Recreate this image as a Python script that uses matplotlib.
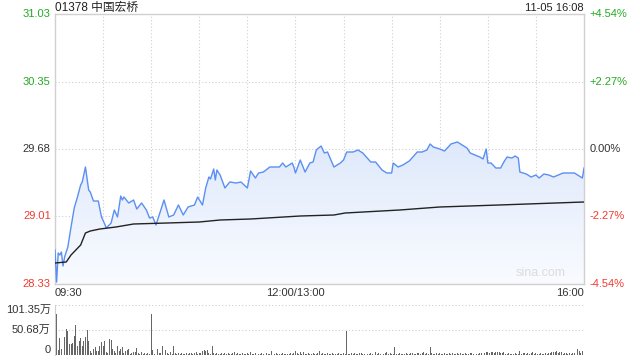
import numpy as np
import matplotlib
matplotlib.use("Agg")
import matplotlib.pyplot as plt
from matplotlib.transforms import blended_transform_factory as btf
from matplotlib.patches import Polygon
from matplotlib.colors import LinearSegmentedColormap

plt.rcParams['font.family'] = ['Liberation Sans', 'Noto Sans CJK SC', 'DejaVu Sans']

title = "01378 中国宏桥"
stamp = "11-05 16:08"
prev_close = 29.68
y_ticks = [31.03, 30.35, 29.68, 29.01, 28.33]
y_tick_labels = ["31.03", "30.35", "29.68", "29.01", "28.33"]
pct_labels = ["+4.54%", "+2.27%", "0.00%", "-2.27%", "-4.54%"]
x_tick_pos = [0, 150, 330]
x_tick_labels = ["09:30", "12:00/13:00", "16:00"]
vol_ticks = [101.35, 50.68, 0]
vol_tick_labels = ["101.35万", "50.68万", "0"]

# minutes since 09:30 (lunch break removed)
price_t = [0, 1, 2, 3, 4, 5, 6, 8, 10, 12, 14, 16, 17, 19, 21, 22, 24, 27, 29, 31,
           32, 35, 37, 39, 41, 42, 43, 46, 49, 51, 54, 57, 59, 61, 63, 66, 68, 71, 74, 77,
           80, 83, 87, 89, 92, 94, 96, 97, 99, 100, 101, 103, 106, 109, 113, 116, 120, 122, 125, 127,
           130, 134, 140, 142, 144, 148, 149, 150, 153, 156, 159, 161, 163, 166, 168, 170, 174, 178, 180, 182,
           186, 189, 192, 197, 200, 204, 207, 210, 211, 214, 217, 221, 226, 229, 232, 234, 236, 240, 243, 247,
           251, 254, 257, 259, 262, 265, 267, 269, 270, 272, 275, 278, 280, 282, 285, 287, 289, 290, 294, 297,
           300, 302, 305, 308, 311, 314, 317, 321, 324, 328, 329, 330]
price_v = [28.67, 28.35, 28.64, 28.62, 28.65, 28.51, 28.60, 28.70, 28.90, 29.09, 29.20, 29.32, 29.35, 29.50, 29.27, 29.25, 29.16, 29.16, 29.00, 28.93,
           28.89, 28.94, 29.07, 29.00, 29.21, 29.17, 29.20, 29.14, 29.17, 29.08, 29.14, 29.07, 28.99, 29.00, 28.92, 29.07, 29.17, 29.00, 29.02, 29.12,
           29.02, 29.10, 29.12, 29.20, 29.12, 29.29, 29.40, 29.38, 29.48, 29.37, 29.47, 29.42, 29.29, 29.35, 29.34, 29.35, 29.29, 29.46, 29.39, 29.44,
           29.45, 29.50, 29.50, 29.54, 29.50, 29.54, 29.50, 29.44, 29.57, 29.45, 29.54, 29.55, 29.67, 29.71, 29.64, 29.65, 29.50, 29.54, 29.57, 29.65,
           29.65, 29.67, 29.64, 29.55, 29.55, 29.47, 29.44, 29.44, 29.54, 29.50, 29.52, 29.56, 29.65, 29.65, 29.67, 29.73, 29.70, 29.68, 29.66, 29.73,
           29.75, 29.72, 29.69, 29.64, 29.62, 29.60, 29.58, 29.68, 29.54, 29.54, 29.49, 29.49, 29.55, 29.60, 29.59, 29.61, 29.59, 29.45, 29.43, 29.40,
           29.42, 29.39, 29.43, 29.42, 29.40, 29.42, 29.44, 29.44, 29.44, 29.40, 29.39, 29.49]

avg_t = [0, 7, 10, 16, 19, 22, 28, 38, 49, 70, 90, 103, 122, 153, 174, 181, 215, 240, 277, 330]
avg_v = [28.54, 28.55, 28.62, 28.72, 28.84, 28.86, 28.88, 28.90, 28.93, 28.94, 28.95, 28.97, 28.98, 29.01, 29.02, 29.04, 29.07, 29.10, 29.12, 29.15]

# volume per minute, in 万
volume = [91, 83, 10, 34, 12, 19, 36, 53, 48, 22, 22, 24, 39, 61,
          19, 29, 34, 19, 29, 37, 51,
          28, 9, 5, 12, 16, 9, 9, 19, 26, 19, 29, 7, 4, 32,
          31, 12, 9, 5, 19, 9, 12, 17, 5, 9, 11, 12, 3, 5, 7, 7, 14, 5, 3, 7, 3, 4, 2, 4, 3,
          83,
          10, 3, 3, 12, 5, 4, 19, 16, 10, 5, 3, 7, 3, 19,
          5, 3, 5, 3, 4, 3,
          3, 5, 2, 4, 5, 3, 4, 6, 3, 5, 4,
          9, 10, 9, 10, 4, 3,
          19,
          4, 3, 5, 2, 3, 4, 3, 5, 2, 4, 3, 2, 4,
          7,
          3, 4, 2, 3, 5, 3, 2, 4, 3,
          7,
          3, 2, 4, 3, 2, 3, 5, 2, 3, 4, 2, 3,
          9,
          3, 2, 4, 3, 2, 3, 4, 2, 3, 2, 3, 4, 3, 5,
          9, 4, 3,
          7, 3, 7, 3,
          3, 4, 2, 3, 5, 3, 2, 4,
          9,
          3, 4, 2, 3, 5, 2, 3, 4, 2, 3, 3, 5, 2, 3, 4, 3,
          48,
          3, 2, 4, 3, 5, 2, 3, 4, 5, 3, 2, 5, 3, 2, 4, 3, 5,
          7,
          3, 4, 2, 5, 3, 4,
          7,
          3, 4, 2, 3,
          16,
          3, 2, 4, 3, 2, 3, 4, 2, 3, 5, 4, 3, 2, 4, 5, 3, 4,
          7,
          3, 4, 2,
          16,
          4, 3, 2, 5, 3, 4, 2, 3, 4, 3, 2, 5, 3, 4, 2, 3, 4, 3, 5, 2, 3, 4, 3, 2, 4, 5, 3, 4, 2, 3, 5, 4,
          6, 5, 7, 6, 5, 6, 7, 5, 6, 7, 6, 5, 4, 6,
          3, 2, 4, 3, 2, 3, 4, 2, 3,
          9,
          3, 4, 5, 3, 4, 2, 5, 6, 3, 4, 3, 2, 4, 3, 2, 4, 3, 5, 4,
          7, 6, 7, 8, 5, 7, 6,
          3, 4, 5, 3, 4, 3, 5, 4,
          9, 12, 9, 5, 8,
          101.35]

GREEN = '#22aa22'
RED = '#f03a2e'
DARK = '#333333'
GRID = '#cfcfcf'
BORDER = '#d0d0d0'
tick_colors = [GREEN, GREEN, DARK, RED, RED]

fig = plt.figure(figsize=(6.4, 3.6), dpi=100)
ax = fig.add_axes([55/640, 1-284/360, 529/640, 270/360])
axv = fig.add_axes([55/640, 1-355/360, 529/640, 50/360])

ymin, ymax = y_ticks[-1], y_ticks[0]
ax.set_xlim(0, 330)
ax.set_ylim(ymin, ymax)

# gradient fill under price line
grad = np.linspace(0, 1, 256).reshape(-1, 1)
cmap = LinearSegmentedColormap.from_list('g', ['#f9fbff', '#dfe9fb'])
im = ax.imshow(grad, aspect='auto', cmap=cmap, origin='lower',
               extent=[0, 330, ymin, max(price_v)], zorder=1)
poly_xy = list(zip(price_t, price_v)) + [(price_t[-1], ymin), (price_t[0], ymin)]
poly = Polygon(poly_xy, closed=True, facecolor='none', edgecolor='none')
ax.add_patch(poly)
im.set_clip_path(poly)

for t in range(30, 330, 30):
    ax.axvline(t, color=GRID, lw=0.8, ls=(0, (1, 2)), zorder=0.5)
for y in y_ticks[1:-1]:
    ax.axhline(y, color=GRID, lw=0.8, ls=(0, (1, 2)), zorder=0.5)

ax.plot(price_t, price_v, color='#5b8ff2', lw=1.0, zorder=3)
ax.plot(avg_t, avg_v, color='#222222', lw=1.0, zorder=3)

ax.set_xticks([])
ax.set_yticks([])
for s in ax.spines.values():
    s.set_color(BORDER)
    s.set_linewidth(1.0)

tl = btf(ax.transAxes, ax.transData)
for y, lab, lab2, c in zip(y_ticks, y_tick_labels, pct_labels, tick_colors):
    ax.text(-0.008, y, lab, transform=tl, ha='right', va='center', fontsize=8, color=c)
    ax.text(1.011, y, lab2, transform=tl, ha='left', va='center', fontsize=8, color=c)

tx = btf(ax.transData, ax.transAxes)
has = ['left', 'center', 'right']
for p, lab, ha in zip(x_tick_pos, x_tick_labels, has):
    ax.text(p, -0.033, lab, transform=tx, ha=ha, va='center', fontsize=8, color=DARK)

ax.text(0, (284 - 8) / 270, title, transform=ax.transAxes, ha='left', va='center', fontsize=8.5, color='#222222')
ax.text(1, (284 - 8) / 270, stamp, transform=ax.transAxes, ha='right', va='center', fontsize=8, color='#222222')
ax.text(0.966, 0.018, "sina.com", transform=ax.transAxes, ha='right', va='bottom', fontsize=9, color='#dcdcdc', zorder=2)

# volume panel
vt = np.arange(len(volume))
axv.bar(vt, volume, width=0.6, color='#666666', zorder=2)
axv.set_xlim(0, 330)
axv.set_ylim(0, vol_ticks[0])
for y in vol_ticks[:2]:
    axv.axhline(y, color=GRID, lw=0.8, ls=(0, (1, 2)), zorder=0.5)
axv.set_xticks([])
axv.set_yticks([])
for k in ['top', 'right', 'bottom']:
    axv.spines[k].set_visible(False)
axv.spines['left'].set_color(BORDER)
tlv = btf(axv.transAxes, axv.transData)
vas = ['top', 'center', 'bottom']
for y, lab, va in zip(vol_ticks, vol_tick_labels, vas):
    axv.text(-0.008, y, lab, transform=tlv, ha='right', va=va, fontsize=8, color=DARK)

fig.savefig('out.png', dpi=100)
